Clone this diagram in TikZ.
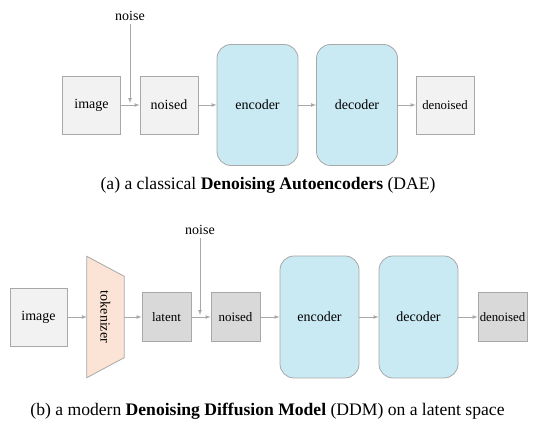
\documentclass[tikz,border=0pt]{standalone}
\usepackage{fontspec}
\setmainfont{Liberation Serif}
\tikzset{>=latex}
\definecolor{boxgray}{HTML}{F2F2F2}
\definecolor{latgray}{HTML}{D9D9D9}
\definecolor{netblue}{HTML}{C9E9F3}
\definecolor{tokpeach}{HTML}{FBE4D5}
\definecolor{edgegray}{HTML}{A8A8A8}
\newcommand{\lbl}[1]{\fontsize{#1}{#1}\selectfont}

\begin{document}
\begin{tikzpicture}[x=1pt,y=1pt,font=\lbl{14},
  blk/.style={draw=edgegray,line width=0.8pt,inner sep=0pt},
  img/.style={blk,fill=boxgray,minimum width=58pt,minimum height=58pt},
  lat/.style={blk,fill=latgray,minimum width=49pt,minimum height=49pt},
  net/.style={blk,fill=netblue,rounded corners=14pt,minimum width=81pt,minimum height=121pt},
  flow/.style={->,draw=edgegray,line width=0.7pt}
]
  \useasboundingbox (0,0) rectangle (536,428);
  \node[img] (a-img) at (91.5,323) {image};
  \node[img] (a-nsd) at (169,323) {noised};
  \node[net] (a-enc) at (257.5,323) {encoder};
  \node[net] (a-dec) at (357,323) {decoder};
  \node[img,font=\lbl{12.8}] (a-out) at (445,323) {denoised};
  \node (a-noise) at (130,412) {noise};
  \coordinate (a-mix) at (130,325);
  \draw[flow] (a-img) -- (a-nsd);
  \draw[flow] (a-noise) -- (a-mix);
  \draw[flow] (a-nsd) -- (a-enc);
  \draw[flow] (a-enc) -- (a-dec);
  \draw[flow] (a-dec) -- (a-out);
  \node (a-cap) at (268,243) {\lbl{17.6}(a) a classical \textbf{Denoising Autoencoders} (DAE)};

  \node[img,minimum width=57pt] (b-img) at (38.5,111) {image};
  \node[minimum width=37pt,minimum height=121pt] (b-tok) at (105.5,111) {};
  \draw[blk,fill=tokpeach] (b-tok.north west) -- (b-tok.south west)
    -- ([yshift=20pt]b-tok.south east) -- ([yshift=-20pt]b-tok.north east) -- cycle;
  \node[rotate=-90] at (b-tok) {tokenizer};
  \node[lat,font=\lbl{13}] (b-lat) at (166.5,111) {latent};
  \node[lat,font=\lbl{13}] (b-nsd) at (235.5,111) {noised};
  \node[net,minimum width=79pt,minimum height=122pt] (b-enc) at (319.5,111) {encoder};
  \node[net,minimum width=79pt,minimum height=122pt] (b-dec) at (418.5,111) {decoder};
  \node[lat,font=\lbl{12.8}] (b-out) at (502.5,111) {denoised};
  \node (b-noise) at (200,198) {noise};
  \coordinate (b-mix) at (200,113);
  \draw[flow] (b-img) -- (b-tok);
  \draw[flow] (b-tok) -- (b-lat);
  \draw[flow] (b-lat) -- (b-nsd);
  \draw[flow] (b-noise) -- (b-mix);
  \draw[flow] (b-nsd) -- (b-enc);
  \draw[flow] (b-enc) -- (b-dec);
  \draw[flow] (b-dec) -- (b-out);
  \node (b-cap) at (267.5,17) {\lbl{17.6}(b) a modern \textbf{Denoising Diffusion Model} (DDM) on a latent space};
\end{tikzpicture}
\end{document}
